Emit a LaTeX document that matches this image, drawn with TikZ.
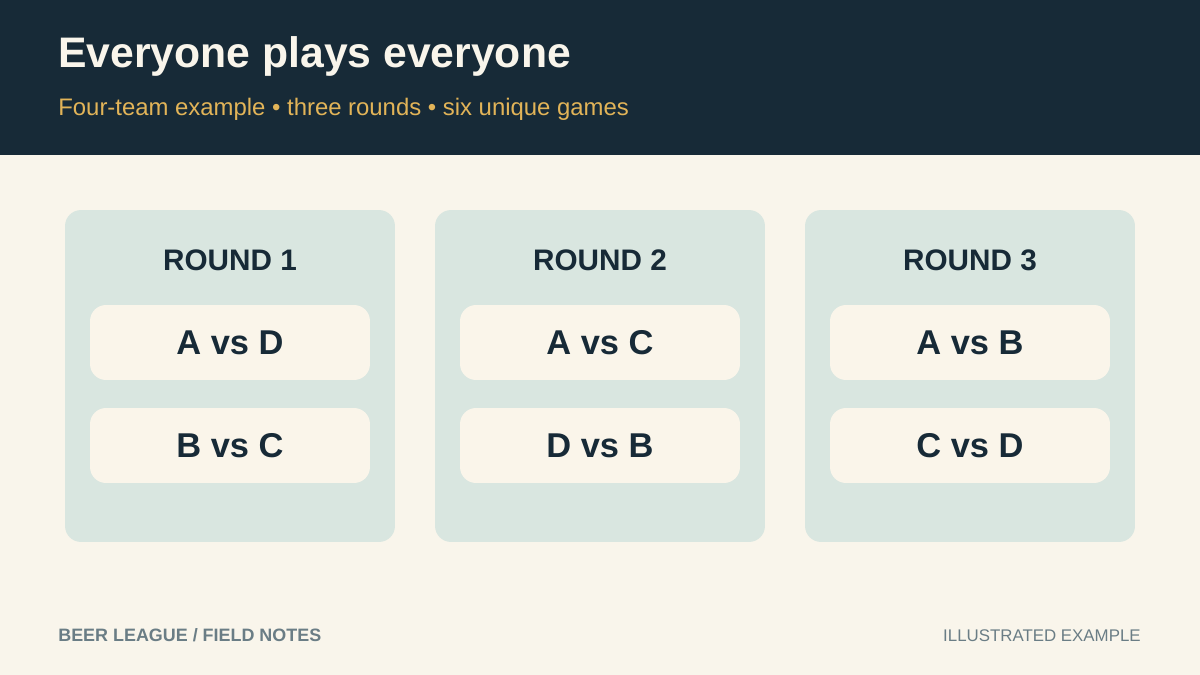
\documentclass[tikz,border=0pt]{standalone}
\usepackage{fontspec}
\setmainfont{Liberation Sans}
\usetikzlibrary{positioning}
\definecolor{navy}{HTML}{172A37}
\definecolor{paper}{HTML}{F9F5EB}
\definecolor{cardgreen}{HTML}{D9E6E0}
\definecolor{slot}{HTML}{FAF5EA}
\definecolor{gold}{HTML}{E2B458}
\definecolor{footgray}{HTML}{6A7D85}
\tikzstyle{card}=[fill=cardgreen,rounded corners=0.32cm,minimum width=6.6cm,minimum height=6.64cm,inner sep=0pt]
\tikzstyle{game}=[fill=slot,rounded corners=0.32cm,minimum width=5.6cm,minimum height=1.5cm,inner sep=0pt,text=navy,font=\fontsize{19.6}{23}\selectfont\bfseries]
\tikzstyle{roundlabel}=[inner sep=0pt,text=navy,font=\fontsize{16.9}{20}\selectfont\bfseries]
\tikzstyle{footer}=[inner sep=0pt,text=footgray,font=\fontsize{9.6}{12}\selectfont]

\begin{document}
\begin{tikzpicture}[x=0.02cm,y=-0.02cm]

% First we draw the page and the header band
\useasboundingbox[fill=paper] (0,0) rectangle (1200,675);
\fill[navy] (0,0) rectangle (1200,155);
\node[anchor=base west,inner sep=0pt,text=paper,font=\fontsize{24.3}{29}\selectfont\bfseries] (title) at (58,68) {Everyone plays everyone};
\node[anchor=base west,inner sep=0pt,text=gold,font=\fontsize{13.6}{16}\selectfont] (subtitle) at (58,116) {Four-team example • three rounds • six unique games};

% Then the three rounds with their games
\foreach \i/\x/\first/\second in {1/230/A vs D/B vs C,2/600/A vs C/D vs B,3/970/A vs B/C vs D}
{
\node[card] (card\i) at (\x,376) {};
\node[roundlabel] (label\i) at (\x,260) {ROUND \i};
\node[game] (first\i) at (\x,342.5) {\first};
\node[game] (second\i) at (\x,445.5) {\second};
}

% Footer
\node[footer,anchor=base west,font=\fontsize{10.2}{12}\selectfont\bfseries] (league) at (58,641) {BEER LEAGUE / FIELD NOTES};
\node[footer,anchor=base east] (note) at (1141,641) {ILLUSTRATED EXAMPLE};

\end{tikzpicture}
\end{document}
